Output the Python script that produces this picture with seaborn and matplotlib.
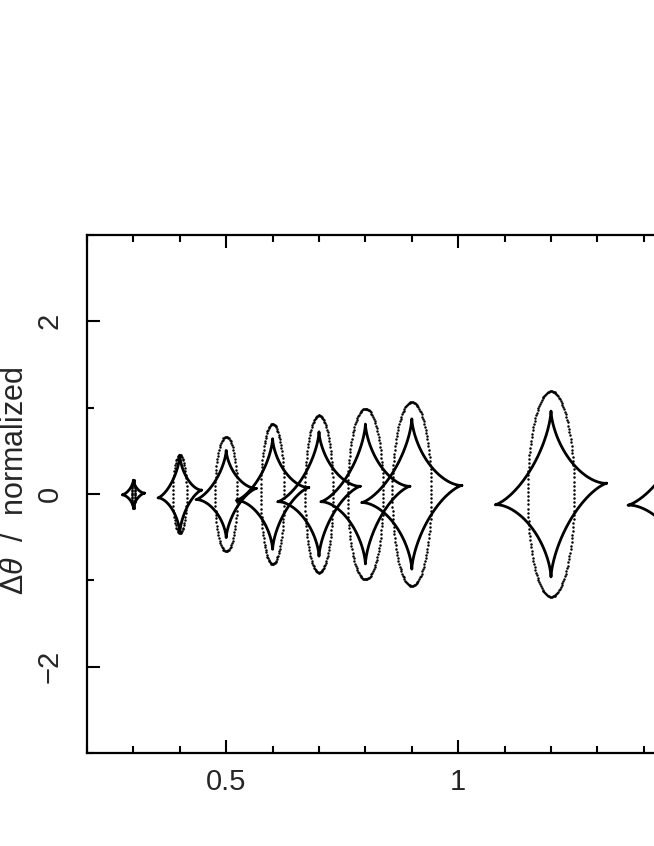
import numpy as np
import pandas as pd
import matplotlib
matplotlib.use("Agg")
import matplotlib.pyplot as plt
import seaborn as sns
from matplotlib.ticker import MultipleLocator, FixedLocator

# ---- data ----
centers = [0.3, 0.4, 0.5, 0.6, 0.7, 0.8, 0.9, 1.2, 1.5]
caustic_halfwidth = [0.024, 0.047, 0.065, 0.078, 0.089, 0.096, 0.108, 0.120, 0.134]
caustic_halfheight = [0.16, 0.45, 0.505, 0.64, 0.72, 0.81, 0.87, 0.96, 1.00]
caustic_tilt = [0.01, 0.045, 0.065, 0.075, 0.09, 0.09, 0.10, 0.125, 0.13]
curve_halfwidth = [0.003, 0.015, 0.024, 0.025, 0.030, 0.038, 0.042, 0.050, 0.055]
curve_halfheight = [0.16, 0.45, 0.665, 0.81, 0.91, 0.99, 1.065, 1.19, 1.26]
xlim = (0.2, 2.0)
ylim = (-3, 3)
x_major = [0.5, 1.0]
x_labels = ["0.5", "1"]
y_major = [-2, 0, 2]
y_labels = ["\u22122", "0", "2"]
ylabel = r"$\Delta\theta$  /  normalized"

# ---- build curves ----
rows_c = []
rows_o = []
t = np.linspace(0, 2 * np.pi, 400)
for i, xc in enumerate(centers):
    a = caustic_halfwidth[i]
    b = caustic_halfheight[i]
    s = caustic_tilt[i]
    cx = a * np.cos(t) ** 3
    cy = b * np.sin(t) ** 3 + s * np.cos(t) ** 3
    for xx, yy in zip(xc + cx, cy):
        rows_c.append((i, xx, yy))
    n = max(60, int(round(130 * curve_halfheight[i])))
    to = np.linspace(0, 2 * np.pi, n, endpoint=False)
    ox = xc + curve_halfwidth[i] * np.cos(to)
    oy = curve_halfheight[i] * np.sin(to)
    for xx, yy in zip(ox, oy):
        rows_o.append((i, xx, yy))
caustics = pd.DataFrame(rows_c, columns=["shape", "x", "y"])
ovals = pd.DataFrame(rows_o, columns=["shape", "x", "y"])

# ---- figure ----
sns.set_theme(style="ticks")
plt.rcParams["font.family"] = ["Liberation Sans", "DejaVu Sans"]
plt.rcParams["mathtext.fontset"] = "custom"
plt.rcParams["mathtext.rm"] = "Liberation Sans"
plt.rcParams["mathtext.it"] = "Liberation Sans:italic"

W, H = 654, 846
fig = plt.figure(figsize=(W / 100, H / 100), dpi=100)
ax_left, ax_top, ax_bottom = 87, 235, 753
px_per_x = 464
ax_w = (xlim[1] - xlim[0]) * px_per_x
ax_h = ax_bottom - ax_top
ax = fig.add_axes([ax_left / W, (H - ax_bottom) / H, ax_w / W, ax_h / H])

sns.lineplot(data=caustics, x="x", y="y", units="shape", estimator=None, sort=False,
             color="black", linewidth=2.0, ax=ax, legend=False)
sns.scatterplot(data=ovals, x="x", y="y", color="black", s=3.2, linewidth=0,
                ax=ax, legend=False)

ax.set_xlim(*xlim)
ax.set_ylim(*ylim)
ax.set_xlabel("")
ax.set_ylabel(ylabel, fontsize=22)
ax.yaxis.set_label_coords((30 - ax_left) / ax_w, (ax_bottom - 481) / ax_h)

ax.xaxis.set_major_locator(FixedLocator(x_major))
ax.set_xticklabels(x_labels)
ax.xaxis.set_minor_locator(MultipleLocator(0.1))
ax.yaxis.set_major_locator(FixedLocator(y_major))
ax.set_yticklabels(y_labels, rotation=90, va="center")
ax.yaxis.set_minor_locator(MultipleLocator(1))

ax.tick_params(which="both", direction="in", top=True, right=True, width=1.5, color="black")
ax.tick_params(which="major", length=9.5)
ax.tick_params(which="minor", length=5)
ax.tick_params(axis="x", which="major", labelsize=21, pad=11)
ax.tick_params(axis="y", which="major", labelsize=21, pad=17)
for sp in ax.spines.values():
    sp.set_linewidth(1.6)
    sp.set_color("black")

fig.savefig("out.png", dpi=100)
